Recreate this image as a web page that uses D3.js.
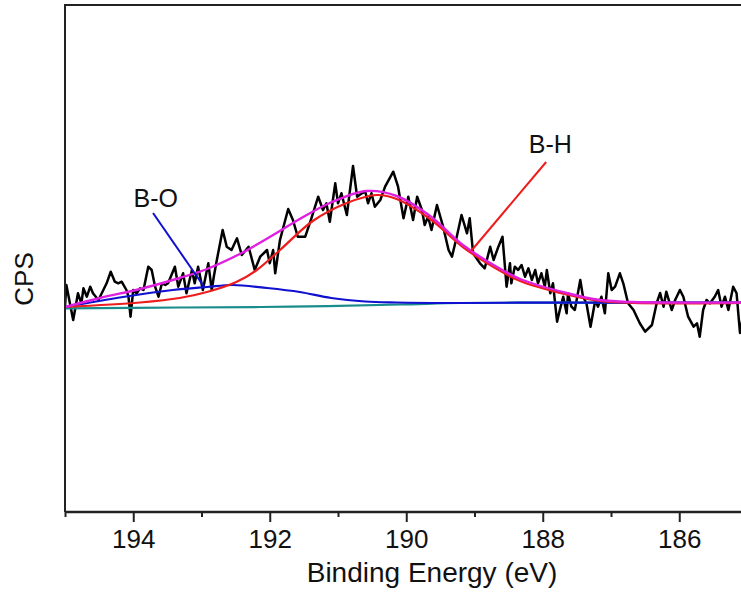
<!DOCTYPE html>
<html>
<head>
<meta charset="utf-8">
<script src="https://cdn.jsdelivr.net/npm/d3@7"></script>
<style>
  html, body { margin: 0; padding: 0; background: #fff; }
  svg { display: block; font-family: "Liberation Sans", Arial, Helvetica, sans-serif; }
</style>
</head>
<body>
<svg id="chart" width="741" height="598"></svg>
<script>
// ---- data (binding energy in eV, intensity in arbitrary CPS) ----
const rawBE = [195.00,194.98,194.88,194.81,194.76,194.73,194.68,194.63,194.59,194.51,194.39,194.33,194.27,194.22,194.17,194.10,194.07,194.04,194.00,193.95,193.90,193.85,193.78,193.73,193.68,193.63,193.58,193.53,193.49,193.39,193.34,193.27,193.22,193.14,193.10,193.05,192.98,192.90,192.85,192.82,192.78,192.69,192.63,192.56,192.48,192.41,192.31,192.22,192.14,192.04,192.00,191.95,191.92,191.85,191.73,191.66,191.59,191.48,191.39,191.29,191.22,191.17,191.12,191.04,191.00,190.95,190.87,190.78,190.72,190.65,190.60,190.56,190.51,190.46,190.38,190.31,190.19,190.12,190.04,189.97,189.90,189.84,189.77,189.73,189.68,189.63,189.55,189.46,189.38,189.33,189.26,189.19,189.11,189.07,189.02,188.92,188.85,188.77,188.72,188.65,188.59,188.53,188.48,188.46,188.41,188.36,188.31,188.26,188.21,188.16,188.11,188.07,188.02,187.97,187.94,187.89,187.85,187.79,187.75,187.70,187.65,187.63,187.58,187.53,187.45,187.41,187.36,187.30,187.23,187.19,187.14,187.09,187.04,186.99,186.94,186.87,186.82,186.75,186.67,186.58,186.50,186.40,186.33,186.28,186.23,186.19,186.11,186.06,185.99,185.94,185.87,185.79,185.74,185.70,185.65,185.60,185.55,185.48,185.43,185.38,185.33,185.28,185.21,185.16,185.11,185.05,185.00];
const rawCPS = [2053,2270,1920,2187,2087,2237,2153,2253,2187,2120,2287,2403,2303,2287,2303,2220,2153,1953,2220,2187,2237,2220,2453,2420,2253,2153,2287,2270,2287,2453,2253,2387,2187,2420,2287,2453,2220,2487,2220,2353,2503,2820,2653,2620,2737,2570,2653,2420,2553,2620,2487,2620,2387,2720,3030,2920,2753,2753,2937,3153,3020,3087,2903,3287,3087,3187,2970,3460,3153,3187,3203,3087,3187,3053,3120,3253,3403,3253,2937,3153,2920,3153,3020,2870,2953,2820,3070,2853,2620,2553,2753,2970,2787,2937,2587,2487,2437,2653,2520,2653,2753,2253,2487,2287,2453,2420,2470,2353,2437,2320,2420,2287,2387,2253,2420,2187,2287,1903,2020,2153,1987,2187,2053,2020,2320,2153,2087,1853,2120,2053,2153,1987,2387,2220,2253,2387,2287,2087,2020,1890,1803,1870,2090,2190,2053,2203,2020,2120,2220,2153,1953,1853,1887,1753,2020,2120,2087,2153,2220,2053,2153,2020,2253,2187,1790,2020,2120];

const bgBE  = [195.00,193.32,191.70,190.09,189.21,188.33,185.00];
const bgCPS = [2037,2045,2053,2075,2090,2093,2093];

const boBE  = [195.00,194.15,193.42,192.92,192.54,192.04,191.56,191.10,190.60,190.14,189.40,188.33,185.00];
const boCPS = [2050,2150,2220,2250,2270,2240,2200,2140,2105,2095,2090,2093,2093];

const bhBE  = [195.00,193.90,193.32,192.92,192.49,192.19,191.85,191.37,190.87,190.43,190.14,189.65,189.17,188.82,188.33,187.65,187.16,186.68,185.00];
const bhCPS = [2050,2095,2140,2200,2300,2420,2620,2910,3090,3170,3130,2930,2650,2490,2310,2175,2110,2090,2093];

const envBE  = [195.00,194.49,193.90,193.32,192.92,192.44,192.00,191.56,191.12,190.58,190.14,189.65,189.17,188.67,188.33,187.65,187.16,186.68,185.00];
const envCPS = [2050,2140,2230,2340,2430,2580,2750,2930,3090,3210,3160,2960,2670,2450,2330,2190,2120,2100,2095];

const majorTicks = [194,192,190,188,186];
const minorTicks = [195,193,191,189,187,185];

// annotations
const labelNames = ["B-O","B-H"];
const labelPos   = [[193.67,3050],[187.89,3590]];
const leaderFrom = [[193.71,2990],[187.95,3500]];
const leaderTo   = [[192.95,2240],[189.05,2610]];
const leaderColors = ["#1010d0","#ee1c1c"];

// ---- layout ----
const svg = d3.select("#chart");
const L = 65, R = 747.5, T = 5, B = 512;
const x = d3.scaleLinear().domain([195,185]).range([L,R]);
const y = d3.scaleLinear().domain([0,5070]).range([B,T]);

svg.append("rect").attr("width",741).attr("height",598).attr("fill","#fff");

svg.append("defs").append("clipPath").attr("id","clip")
  .append("rect").attr("x",L).attr("y",T).attr("width",R-L).attr("height",B-T);

const g = svg.append("g").attr("clip-path","url(#clip)");

const mk = (be, v) => be.map((d,i)=>[d, v[i]]);
const lineRaw = d3.line().x(d=>x(d[0])).y(d=>y(d[1]));
const lineSmooth = d3.line().x(d=>x(d[0])).y(d=>y(d[1])).curve(d3.curveCatmullRom.alpha(0.5));

g.append("path").datum(mk(rawBE,rawCPS)).attr("d",lineRaw)
  .attr("fill","none").attr("stroke","#000").attr("stroke-width",2.5).attr("stroke-linejoin","round");
g.append("path").datum(mk(bgBE,bgCPS)).attr("d",lineSmooth)
  .attr("fill","none").attr("stroke","#1a8c8c").attr("stroke-width",2.2);
g.append("path").datum(mk(boBE,boCPS)).attr("d",lineSmooth)
  .attr("fill","none").attr("stroke","#1010d0").attr("stroke-width",2.2);
g.append("path").datum(mk(bhBE,bhCPS)).attr("d",lineSmooth)
  .attr("fill","none").attr("stroke","#ee1c1c").attr("stroke-width",2.2);
g.append("path").datum(mk(envBE,envCPS)).attr("d",lineSmooth)
  .attr("fill","none").attr("stroke","#e020e0").attr("stroke-width",2.4);

// leader lines and labels
labelNames.forEach((name,i)=>{
  svg.append("line")
    .attr("x1",x(leaderFrom[i][0])).attr("y1",y(leaderFrom[i][1]))
    .attr("x2",x(leaderTo[i][0])).attr("y2",y(leaderTo[i][1]))
    .attr("stroke",leaderColors[i]).attr("stroke-width",2);
  svg.append("text").attr("x",x(labelPos[i][0])).attr("y",y(labelPos[i][1]))
    .attr("text-anchor","middle").attr("font-size",25).attr("fill","#111").text(name);
});

// frame
svg.append("path")
  .attr("d",`M${L},${B}V${T}H${R}V${B}`)
  .attr("fill","none").attr("stroke","#222").attr("stroke-width",2);

// bottom axis
const axMinor = svg.append("g").attr("transform",`translate(0,${B})`)
  .call(d3.axisBottom(x).tickValues(minorTicks).tickSize(5).tickFormat(""));
axMinor.select(".domain").remove();
axMinor.selectAll("line").attr("stroke","#222").attr("stroke-width",2);

const axMajor = svg.append("g").attr("transform",`translate(0,${B})`)
  .call(d3.axisBottom(x).tickValues(majorTicks).tickSize(10).tickFormat(d3.format("d")));
axMajor.select(".domain").attr("stroke","#222").attr("stroke-width",2.4).attr("d",`M${L},0H${R}`);
axMajor.selectAll("line").attr("stroke","#222").attr("stroke-width",2);
axMajor.selectAll("text").attr("y",36).attr("dy",null)
  .attr("font-size",26).attr("fill","#111")
  .attr("font-family",'"Liberation Sans", Arial, sans-serif');

// axis titles
svg.append("text").attr("x",432).attr("y",582).attr("text-anchor","middle")
  .attr("font-size",28).attr("fill","#111").text("Binding Energy (eV)");
svg.append("text").attr("transform","translate(33,279) rotate(-90)")
  .attr("text-anchor","middle").attr("font-size",26).attr("fill","#111").text("CPS");
</script>
</body>
</html>
